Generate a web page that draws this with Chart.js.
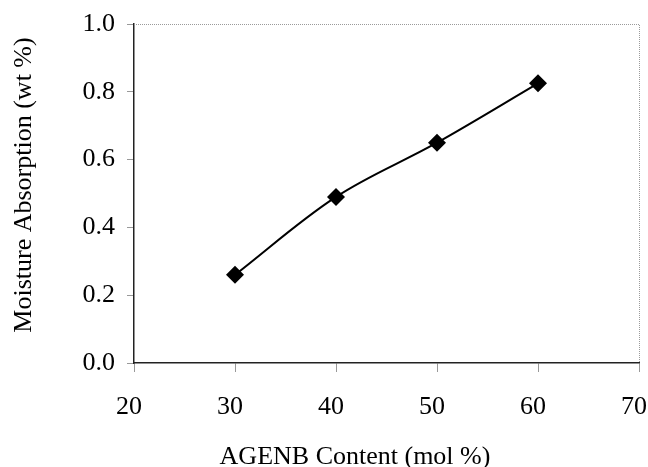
<!DOCTYPE html>
<html>
<head>
<meta charset="utf-8">
<script src="https://cdn.jsdelivr.net/npm/chart.js@4"></script>
<style>
html,body{margin:0;padding:0;background:#fff;}
#wrap{width:648px;height:467px;}
</style>
</head>
<body>
<div id="wrap"><canvas id="c" width="648" height="467"></canvas></div>
<script>
const contentMol = [30, 40, 50, 60];
const moisture = [0.26, 0.49, 0.65, 0.825];
const xTicks = [20, 30, 40, 50, 60, 70];
const yTicks = [0.0, 0.2, 0.4, 0.6, 0.8, 1.0];
const xTitle = 'AGENB Content (mol %)';
const yTitle = 'Moisture Absorption (wt %)';

const frame = {
  id: 'frame',
  afterDraw(chart) {
    const {ctx, chartArea: a} = chart;
    ctx.save();
    ctx.strokeStyle = '#9a9a9a';
    ctx.lineWidth = 1;
    ctx.setLineDash([1, 1]);
    ctx.beginPath();
    ctx.moveTo(a.left, a.top + 0.5);
    ctx.lineTo(a.right + 0.5, a.top + 0.5);
    ctx.lineTo(a.right + 0.5, a.bottom);
    ctx.stroke();
    ctx.setLineDash([]);
    // x-axis title (the original places it left of the plot centre)
    ctx.fillStyle = '#000';
    ctx.font = '26px "Liberation Serif"';
    ctx.textAlign = 'center';
    ctx.textBaseline = 'middle';
    ctx.fillText(xTitle, 355, 457);
    // y-axis title
    ctx.translate(24, 185);
    ctx.rotate(-Math.PI / 2);
    ctx.fillText(yTitle, 0, 0);
    ctx.restore();
  }
};

new Chart(document.getElementById('c'), {
  type: 'scatter',
  data: {
    datasets: [{
      data: contentMol.map((x, i) => ({x: x, y: moisture[i]})),
      showLine: true,
      borderColor: '#000',
      borderWidth: 2,
      tension: 0.35,
      pointStyle: 'rectRot',
      pointRadius: 9,
      pointHoverRadius: 9,
      pointBackgroundColor: '#000',
      pointBorderColor: '#000',
      pointBorderWidth: 0
    }]
  },
  options: {
    responsive: false,
    animation: false,
    events: [],
    layout: {padding: {left: 0, right: 9, top: 24, bottom: 0}},
    plugins: {legend: {display: false}, tooltip: {enabled: false}},
    scales: {
      x: {
        type: 'linear',
        min: 20, max: 70,
        afterBuildTicks(s) { s.ticks = xTicks.map(v => ({value: v})); },
        afterFit(s) { s.height = 104; s.paddingRight = 0; s.paddingLeft = 0; },
        grid: {drawOnChartArea: false, tickLength: 9, color: '#999', tickColor: '#999'},
        border: {color: '#222', width: 1.5},
        ticks: {color: '#000', padding: 20, labelOffset: -5, font: {family: 'Liberation Serif', size: 26}},
        title: {display: false, text: xTitle}
      },
      y: {
        type: 'linear',
        min: 0, max: 1,
        afterBuildTicks(s) { s.ticks = yTicks.map(v => ({value: v})); },
        afterFit(s) { s.width = 134; s.paddingTop = 0; s.paddingBottom = 0; },
        grid: {drawOnChartArea: false, tickLength: 7, color: '#999', tickColor: '#999'},
        border: {color: '#222', width: 1.5},
        ticks: {color: '#000', padding: 12, font: {family: 'Liberation Serif', size: 26},
          callback: v => Number(v).toFixed(1)},
        title: {display: false, text: yTitle}
      }
    }
  },
  plugins: [frame]
});
</script>
</body>
</html>
